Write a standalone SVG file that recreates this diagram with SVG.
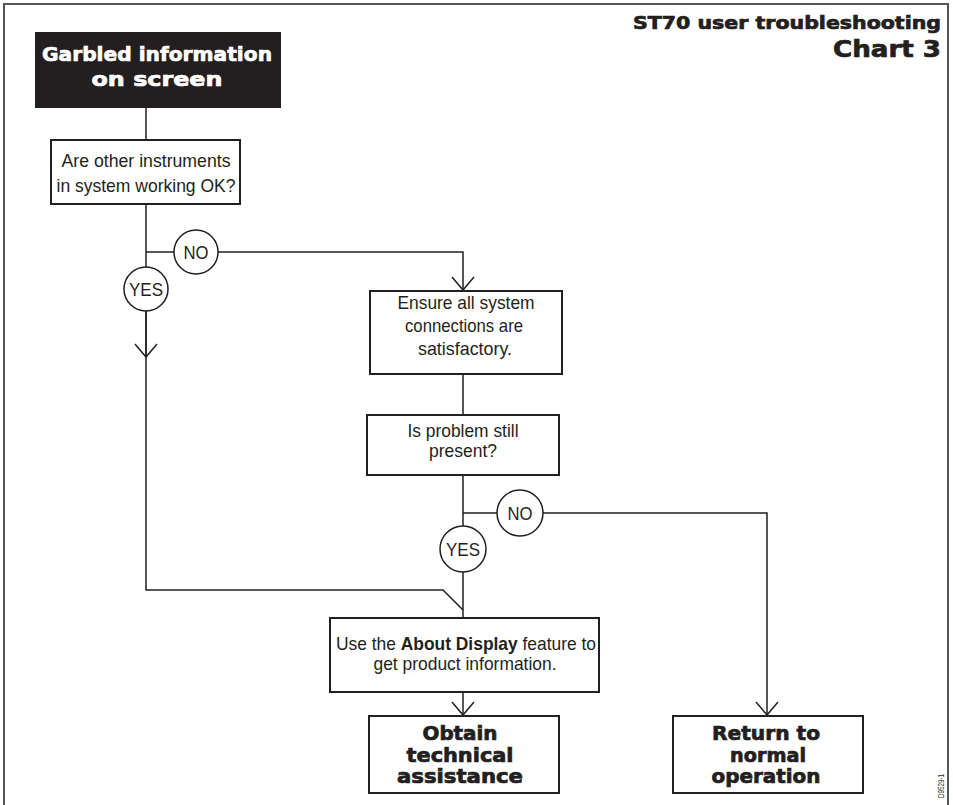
<svg xmlns="http://www.w3.org/2000/svg" width="953" height="805" viewBox="0 0 953 805">
<defs>
<style>
.frame{fill:none;stroke:#555;stroke-width:2}
.box{fill:#fff;stroke:#231f20;stroke-width:2}
.line{fill:none;stroke:#231f20;stroke-width:1.5}
.circ{fill:#fff;stroke:#231f20;stroke-width:1.5}
.t{font-family:"Liberation Sans",Arial,sans-serif;font-size:18.5px;fill:#231f20;text-anchor:middle}
.tb{font-family:"DejaVu Sans","Liberation Sans",sans-serif;font-weight:bold;font-size:19px;fill:#231f20;stroke:#231f20;stroke-width:0.7;text-anchor:middle}
.tw{fill:#fff;stroke:#fff}
.lbl{font-family:"Liberation Sans",Arial,sans-serif;font-size:18px;fill:#231f20;text-anchor:middle}
</style>
<marker id="arr" markerWidth="16" markerHeight="24" refX="14" refY="12" orient="auto" markerUnits="userSpaceOnUse" viewBox="0 0 16 24">
<path d="M1,1 L14,12 L1,23" fill="none" stroke="#231f20" stroke-width="1.5"/>
</marker>
</defs>
<rect width="953" height="805" fill="#fff"/>
<path class="frame" d="M4,805 V4 H948 V805"/>
<g id="title">
<text class="tb" style="text-anchor:end;font-size:17.5px" x="941" y="29" textLength="308" lengthAdjust="spacingAndGlyphs">ST70 user troubleshooting</text>
<text class="tb" style="text-anchor:end;font-size:23px" x="941" y="57" textLength="108" lengthAdjust="spacingAndGlyphs">Chart 3</text>
</g>
<g id="connectors">
<path class="line" d="M146,108 V140"/>
<path class="line" d="M146,204 V590 H443 L463,610"/>
<path class="line" d="M146,300 V357" marker-end="url(#arr)"/>
<path class="line" d="M146,252 H218 M218,252 H463 V290" marker-end="url(#arr)"/>
<path class="line" d="M463,374 V415"/>
<path class="line" d="M463,475 V618"/>
<path class="line" d="M463,513 H767 V715" marker-end="url(#arr)"/>
<path class="line" d="M463,692 V715" marker-end="url(#arr)"/>
</g>
<g id="n-garbled">
<rect x="35" y="32" width="246" height="76" fill="#231f20"/>
<text class="tb tw" style="font-size:20px" x="157" y="61" textLength="230" lengthAdjust="spacingAndGlyphs">Garbled information</text>
<text class="tb tw" style="font-size:20px" x="157" y="86" textLength="131" lengthAdjust="spacingAndGlyphs">on screen</text>
</g>
<g id="n-other">
<rect class="box" x="51" y="140" width="189" height="64"/>
<text class="t" x="146" y="167" textLength="169" lengthAdjust="spacingAndGlyphs">Are other instruments</text>
<text class="t" x="146" y="192" textLength="179" lengthAdjust="spacingAndGlyphs">in system working OK?</text>
</g>
<g id="l-no1">
<circle class="circ" cx="196" cy="252" r="22"/>
<text class="lbl" x="196" y="259" textLength="25" lengthAdjust="spacingAndGlyphs">NO</text>
</g>
<g id="l-yes1">
<circle class="circ" cx="146" cy="289" r="22"/>
<text class="lbl" x="146" y="296" textLength="34" lengthAdjust="spacingAndGlyphs">YES</text>
</g>
<g id="n-ensure">
<rect class="box" x="370" y="291" width="192" height="83"/>
<text class="t" x="466" y="309" textLength="137" lengthAdjust="spacingAndGlyphs">Ensure all system</text>
<text class="t" x="464" y="332" textLength="118" lengthAdjust="spacingAndGlyphs">connections are</text>
<text class="t" x="465" y="355" textLength="94" lengthAdjust="spacingAndGlyphs">satisfactory.</text>
</g>
<g id="n-problem">
<rect class="box" x="367" y="415" width="192" height="60"/>
<text class="t" x="463" y="437" textLength="111" lengthAdjust="spacingAndGlyphs">Is problem still</text>
<text class="t" x="463" y="457" textLength="68" lengthAdjust="spacingAndGlyphs">present?</text>
</g>
<g id="l-no2">
<circle class="circ" cx="520" cy="513" r="23"/>
<text class="lbl" x="520" y="520" textLength="25" lengthAdjust="spacingAndGlyphs">NO</text>
</g>
<g id="l-yes2">
<circle class="circ" cx="463" cy="549" r="23"/>
<text class="lbl" x="463" y="556" textLength="34" lengthAdjust="spacingAndGlyphs">YES</text>
</g>
<g id="n-about">
<rect class="box" x="330" y="618" width="269" height="74"/>
<text class="t" x="466" y="650" textLength="260" lengthAdjust="spacingAndGlyphs">Use the <tspan font-weight="bold">About Display</tspan> feature to</text>
<text class="t" x="465" y="670" textLength="183" lengthAdjust="spacingAndGlyphs">get product information.</text>
</g>
<g id="n-obtain">
<rect class="box" x="369" y="716" width="190" height="77"/>
<text class="tb" x="460" y="740" textLength="75" lengthAdjust="spacingAndGlyphs">Obtain</text>
<text class="tb" x="460" y="762" textLength="107" lengthAdjust="spacingAndGlyphs">technical</text>
<text class="tb" x="460" y="783" textLength="126" lengthAdjust="spacingAndGlyphs">assistance</text>
</g>
<g id="n-return">
<rect class="box" x="673" y="716" width="190" height="77"/>
<text class="tb" x="766" y="740" textLength="108" lengthAdjust="spacingAndGlyphs">Return to</text>
<text class="tb" x="768" y="762" textLength="76" lengthAdjust="spacingAndGlyphs">normal</text>
<text class="tb" x="766" y="783" textLength="109" lengthAdjust="spacingAndGlyphs">operation</text>
</g>
<text transform="translate(944,798) rotate(-90)" style="font-family:'Liberation Sans',Arial,sans-serif;font-size:9px;fill:#231f20" textLength="24" lengthAdjust="spacingAndGlyphs">D9529-1</text>
</svg>
